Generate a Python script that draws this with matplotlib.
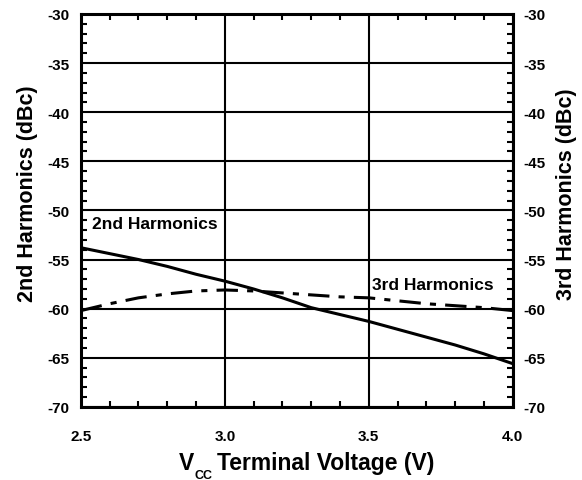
import matplotlib
matplotlib.use("Agg")
import matplotlib.pyplot as plt
from matplotlib.ticker import MultipleLocator, FormatStrFormatter

plt.rcParams['font.family'] = ['Liberation Sans', 'DejaVu Sans']
plt.rcParams['font.weight'] = 'bold'
plt.rcParams['axes.unicode_minus'] = False

# supply voltage sweep
vcc = [2.5, 2.6, 2.7, 2.8, 2.9, 3.0, 3.1, 3.2, 3.3, 3.4, 3.5, 3.6, 3.7, 3.8, 3.9, 4.0]
# 2nd harmonic level (dBc)
h2 = [-53.8, -54.4, -55.0, -55.7, -56.5, -57.2, -58.0, -58.9, -59.9, -60.6,
      -61.3, -62.1, -62.9, -63.7, -64.6, -65.6]
# 3rd harmonic level (dBc)
h3 = [-60.2, -59.5, -58.9, -58.5, -58.2, -58.1, -58.2, -58.4, -58.6, -58.8,
      -58.9, -59.2, -59.5, -59.7, -59.9, -60.2]

fig = plt.figure(figsize=(5.82, 4.81), dpi=100)
ax = fig.add_axes([0.139, 0.152, 0.742, 0.817])

ax.plot(vcc, h2, color='black', lw=2.2, solid_capstyle='butt')
ax.plot(vcc, h3, color='black', lw=2.2, linestyle=(0, (7, 3, 2, 3)))

ax.text(2.537, -51.3, '2nd Harmonics', fontsize=12.5, fontweight='bold', va='center')
ax.text(3.51, -57.55, '3rd Harmonics', fontsize=12.5, fontweight='bold', va='center')

ax.set_xlim(2.5, 4.0)
ax.set_ylim(-70, -30)
ax.xaxis.set_major_locator(MultipleLocator(0.5))
ax.xaxis.set_minor_locator(MultipleLocator(0.1))
ax.yaxis.set_major_locator(MultipleLocator(5))
ax.yaxis.set_minor_locator(MultipleLocator(1))
ax.xaxis.set_major_formatter(FormatStrFormatter('%.1f'))
ax.grid(True, which='major', color='black', lw=1.5)

ax.tick_params(which='both', direction='in', top=True, right=False, labelsize=11,
               width=1.5)
ax.tick_params(axis='x', which='both', pad=16)
ax.tick_params(axis='y', which='both', pad=8)
ax.tick_params(which='major', length=0)
ax.tick_params(which='minor', length=4)
for s in ax.spines.values():
    s.set_linewidth(2.2)

ax2 = ax.twinx()
ax2.set_ylim(-70, -30)
ax2.yaxis.set_major_locator(MultipleLocator(5))
ax2.yaxis.set_minor_locator(MultipleLocator(1))
ax2.tick_params(which='both', direction='in', labelsize=11, width=1.5, pad=8)
ax2.tick_params(which='major', length=0)
ax2.tick_params(which='minor', length=4)

for lab in ax.get_xticklabels() + ax.get_yticklabels() + ax2.get_yticklabels():
    lab.set_fontweight('bold')

# x axis title with a deep subscript, built from three pieces
fig.text(179 / 582, 11 / 481, 'V', fontsize=16.5, fontweight='bold', va='baseline')
fig.text(195 / 582, 2 / 481, 'CC', fontsize=9, fontweight='bold', va='baseline')
fig.text(217 / 582, 11 / 481, 'Terminal Voltage (V)', fontsize=16.5, fontweight='bold',
         va='baseline')

ax.set_ylabel('2nd Harmonics (dBc)', fontsize=15.5, fontweight='bold')
ax2.set_ylabel('3rd Harmonics (dBc)', fontsize=15.5, fontweight='bold')
ax.yaxis.set_label_coords(-0.1, 0.545)
ax2.yaxis.set_label_coords(1.1, 0.545)

fig.savefig('out.png', dpi=100)
